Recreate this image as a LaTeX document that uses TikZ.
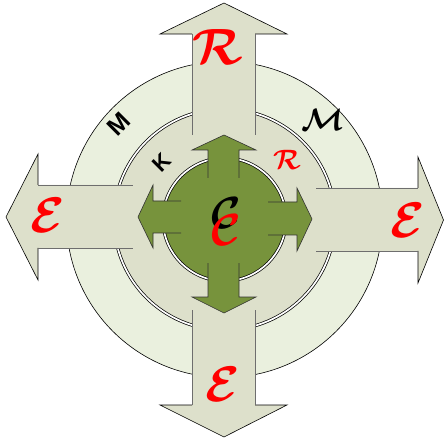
\documentclass[tikz,border=0pt]{standalone}
\usepackage{fontspec}
\newfontfamily\heavysans{Liberation Sans}
\definecolor{outerring}{HTML}{EAF0DE}
\definecolor{midring}{HTML}{DDE0CB}
\definecolor{arrowfill}{HTML}{DDE0CB}
\definecolor{olive}{HTML}{77933C}
\definecolor{shaftline}{HTML}{6E6E6E}
\tikzset{
  ring/.style={fill=#1, draw=black, line width=0.6pt},
  dring/.style={fill=#1, draw=black, line width=0.7pt, double=white, double distance=1.7pt},
  bigfill/.style={fill=arrowfill},
  headline/.style={draw=black, line width=0.6pt},
  shaftedge/.style={draw=shaftline, line width=0.8pt},
  greenfill/.style={fill=olive},
  greenline/.style={draw=black!80, line width=0.6pt},
  lbl/.style={inner sep=0pt, outer sep=0pt},
  sanslbl/.style={inner sep=0pt, outer sep=0pt, font=\heavysans\bfseries, rotate=45},
}
\newcommand{\calbold}[1]{{\boldmath$\mathcal{#1}$}}
\begin{document}
\begin{tikzpicture}[x=1pt, y=-1pt]
\useasboundingbox (0,0) rectangle (444,438);
\coordinate (ctr) at (224.5,219.5);
% outer ring
\path[ring=outerring] (ctr) circle[radius=158];
% middle ring with double outline
\path[dring=midring] (ctr) circle[radius=110.5];
% big arrows: fills
\path[bigfill] (192,135) -- (192,34) -- (160,34) -- (224,3) -- (287,34) -- (255,34) -- (255,135) -- cycle;
\path[bigfill] (192,310) -- (192,405) -- (160,405) -- (224,437) -- (287,405) -- (255,405) -- (255,310) -- cycle;
\path[bigfill] (133,185) -- (38,185) -- (38,154) -- (6,217) -- (38,280) -- (38,248) -- (133,248) -- cycle;
\path[bigfill] (316,188) -- (418,188) -- (418,157) -- (443.5,220) -- (418,283) -- (418,251) -- (316,251) -- cycle;
% big arrows: outlines
\draw[headline] (192,34) -- (160,34) -- (224,3) -- (287,34) -- (255,34);
\draw[shaftedge] (192,34) -- (192,135);
\draw[shaftedge] (255,34) -- (255,135);
\draw[headline] (192,405) -- (160,405) -- (224,437) -- (287,405) -- (255,405);
\draw[shaftedge] (192,310) -- (192,405);
\draw[shaftedge] (255,310) -- (255,405);
\draw[headline] (38,185) -- (38,154) -- (6,217) -- (38,280) -- (38,248);
\draw[shaftedge] (38,185) -- (133,185);
\draw[shaftedge] (38,248) -- (133,248);
\draw[headline] (418,188) -- (418,157) -- (443.5,220) -- (418,283) -- (418,251);
\draw[shaftedge] (316,188) -- (418,188);
\draw[shaftedge] (316,251) -- (418,251);
% inner green circle
\path[dring=olive] (ctr) circle[radius=61.5];
% green cross arrows
\path[greenfill] (208,178) -- (208,150) -- (192,150) -- (224,135) -- (256,150) -- (239,150) -- (239,178) -- cycle;
\path[greenfill] (208,263) -- (208,297) -- (192,297) -- (224,313) -- (256,297) -- (239,297) -- (239,263) -- cycle;
\path[greenfill] (181,201) -- (153,201) -- (153,185) -- (138,217) -- (153,248) -- (153,233) -- (181,233) -- cycle;
\path[greenfill] (268,202) -- (297,202) -- (297,188) -- (312,219) -- (297,251) -- (297,235) -- (268,235) -- cycle;
\draw[greenline] (208,178) -- (208,150) -- (192,150) -- (224,135) -- (256,150) -- (239,150) -- (239,178);
\draw[greenline] (208,263) -- (208,297) -- (192,297) -- (224,313) -- (256,297) -- (239,297) -- (239,263);
\draw[greenline] (181,201) -- (153,201) -- (153,185) -- (138,217) -- (153,248) -- (153,233) -- (181,233);
\draw[greenline] (268,202) -- (297,202) -- (297,188) -- (312,219) -- (297,251) -- (297,235) -- (268,235);
% labels
\node[lbl, text=red, scale=5.1] (rtop) at (218,47) {\calbold{R}};
\node[lbl, text=red, scale=5] (eleft) at (48,215) {\calbold{E}};
\node[lbl, text=red, scale=5] (eright) at (408,220) {\calbold{E}};
\node[lbl, text=red, scale=5] (ebot) at (223,384) {\calbold{E}};
\node[sanslbl, scale=2.5] (mleft) at (119,124) {M};
\node[sanslbl, scale=2.2] (kleft) at (162,163) {K};
\node[lbl, scale=3.1] (mright) at (323,120) {\calbold{M}};
\node[lbl, text=red, scale=2.8] (rsmall) at (287,160) {\calbold{R}};
\node[lbl, scale=4.5] (cblack) at (226,213) {\calbold{C}};
\node[lbl, text=red, scale=4.5] (cred) at (226,230) {\calbold{C}};
\end{tikzpicture}
\end{document}
